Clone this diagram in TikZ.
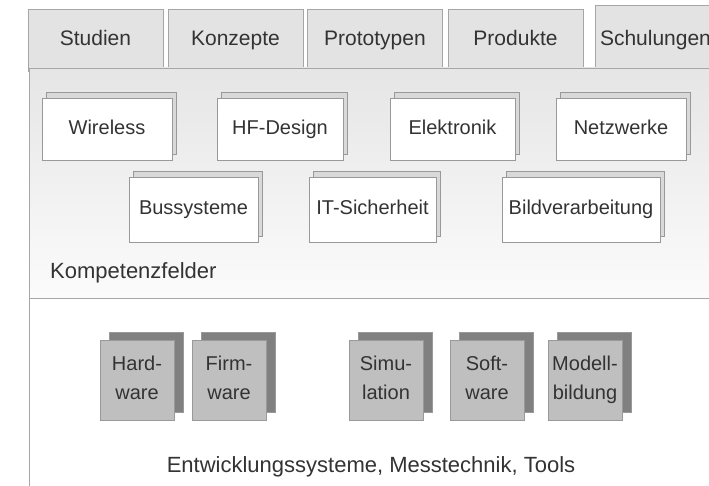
\documentclass[tikz,border=0pt]{standalone}
\usepackage{fontspec}
\setmainfont{Liberation Sans}
\usetikzlibrary{shadows}
\newcommand*{\pw   }{709}
\newcommand*{\ph   }{486}
\newcommand*{\lft  }{29}
\newcommand*{\ptop }{68}
\newcommand*{\psep }{298}
\newcommand*{\rowa }{129}
\newcommand*{\rowb }{209.5}
\newcommand*{\rowc }{380}

\begin{document}
\begin{tikzpicture}[x=1pt, y=-1pt, text=black!80, font=\fontsize{20}{29}\selectfont,
    reiter/.style={draw=gray!70, fill=gray!22, minimum width=135pt, minimum height=62pt, inner sep=0pt,
        text height=15pt, text depth=4pt, font=\fontsize{21}{24}\selectfont},
    feld/.style={draw=gray!80, fill=white, minimum height=62pt, inner sep=0pt, text height=14.5pt, text depth=4pt,
        general shadow={fill=gray!30, draw=gray!80, shadow xshift=4pt, shadow yshift=6pt}},
    werkzeug/.style={draw=gray!80, fill=gray!50, minimum width=74pt, minimum height=80pt, inner sep=0pt, align=center,
        text height=43.5pt, text depth=4.5pt,
        general shadow={fill=gray, draw=gray!80, shadow xshift=9pt, shadow yshift=8pt}},
    titel/.style={inner sep=0pt, text height=16pt, text depth=4.5pt, font=\fontsize{22}{24}\selectfont}]
    \useasboundingbox (0,0) rectangle (\pw,\ph);
    \clip (0,0) rectangle (\pw,\ph);
    \fill [white] (0,0) rectangle (\pw,\ph);
        % tabs
        \node [reiter] (studien)    at ( 95.5,40) {Studien};
        \node [reiter] (konzepte)   at (235.5,40) {Konzepte};
        \node [reiter] (prototypen) at (375  ,40) {Prototypen};
        \node [reiter] (produkte)   at (515.5,40) {Produkte};
        \node [reiter, minimum height=70pt, text width=130pt, align=left, inner xsep=5pt] (schulungen) at (665,40) {Schulungen};
        % panels
        \shade [top color=gray!20, bottom color=gray!3] (\lft,\ptop) rectangle (\pw,\psep);
        \draw [gray!70] (\lft,\ph) -- (\lft,\ptop) -- (\pw,\ptop);
        \draw [gray!70] (\lft,\psep) -- (\pw,\psep);
        % Kompetenzfelder
        \node [feld, minimum width=130pt] (wireless)   at (107  ,\rowa) {Wireless};
        \node [feld, minimum width=126pt] (hfdesign)   at (280  ,\rowa) {HF-Design};
        \node [feld, minimum width=125pt] (elektronik) at (452.5,\rowa) {Elektronik};
        \node [feld, minimum width=130pt] (netzwerke)  at (621  ,\rowa) {Netzwerke};
        \node [feld, minimum width=129pt, minimum height=65pt] (bussysteme)       at (193.5,\rowb) {Bussysteme};
        \node [feld, minimum width=127pt, minimum height=65pt] (itsicherheit)     at (372.5,\rowb) {IT-Sicherheit};
        \node [feld, minimum width=158pt, minimum height=65pt] (bildverarbeitung) at (581  ,\rowb) {Bildverarbeitung};
        \node [titel, anchor=west] (kompetenz) at (50,273) {Kompetenzfelder};
        % Werkzeuge
        \node [werkzeug] (hardware)   at (137,\rowc) {Hard-\\ware};
        \node [werkzeug] (firmware)   at (229,\rowc) {Firm-\\ware};
        \node [werkzeug] (simulation) at (386,\rowc) {Simu-\\lation};
        \node [werkzeug] (software)   at (487,\rowc) {Soft-\\ware};
        \node [werkzeug] (modell)     at (585,\rowc) {Modell-\\bildung};
        \node [titel] (werkzeuge) at (371,467) {Entwicklungssysteme, Messtechnik, Tools};
    \end{tikzpicture}
\end{document}
